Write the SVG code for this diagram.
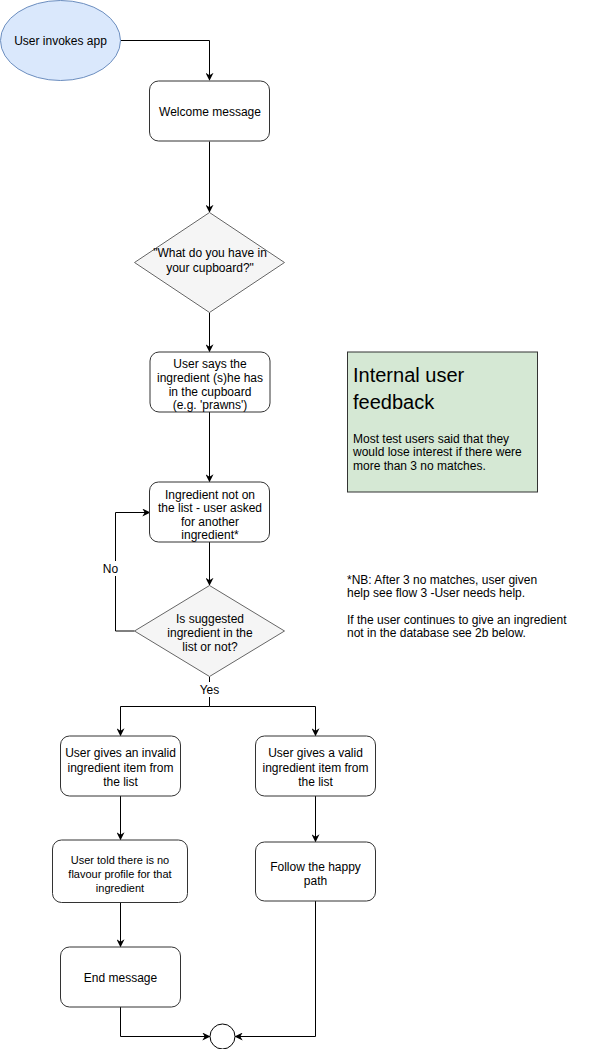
<svg xmlns="http://www.w3.org/2000/svg" width="592" height="1049" viewBox="0 0 592 1049">
<style>
text{font-family:"Liberation Sans",Arial,sans-serif;font-size:12px;fill:#000;}
.c{text-anchor:middle;dominant-baseline:central;}
.box{fill:#fff;stroke:#333;stroke-width:1;}
.dia{fill:#f5f5f5;stroke:#666;stroke-width:1;}
.edge{fill:none;stroke:#000;stroke-width:1;}
.s{font-size:11px;}
</style>
<defs>
<marker id="arr" viewBox="0 0 10 10" refX="9" refY="5" markerWidth="8" markerHeight="8" markerUnits="userSpaceOnUse" orient="auto">
<path d="M0,0 L10,5 L0,10 L3,5 Z" fill="#000"/>
</marker>
</defs>
<rect width="592" height="1049" fill="#fff"/>
<g id="connectors">
<path class="edge" d="M120.5,40.5 H209.5 V80" marker-end="url(#arr)"/>
<path class="edge" d="M209.5,141.5 V212" marker-end="url(#arr)"/>
<path class="edge" d="M209.5,312.5 V351.5" marker-end="url(#arr)"/>
<path class="edge" d="M209.5,412 V481.5" marker-end="url(#arr)"/>
<path class="edge" d="M209.5,542 V585" marker-end="url(#arr)"/>
<path class="edge" d="M134.5,631 H115.5 V512.5 H149.5" marker-end="url(#arr)"/>
<path class="edge" d="M209.5,676.5 V706.5 H120.5 V735.5" marker-end="url(#arr)"/>
<path class="edge" d="M209.5,706.5 H315.5 V735.5" marker-end="url(#arr)"/>
<path class="edge" d="M120.5,796 V839.5" marker-end="url(#arr)"/>
<path class="edge" d="M315.5,796 V841.5" marker-end="url(#arr)"/>
<path class="edge" d="M120.5,903 V946.5" marker-end="url(#arr)"/>
<path class="edge" d="M120.5,1007 V1036.5 H209.5" marker-end="url(#arr)"/>
<path class="edge" d="M315.5,901 V1036.5 H235.5" marker-end="url(#arr)"/>
<rect x="101" y="561" width="19" height="15" fill="#fff"/>
<text class="c" x="110.5" y="568.5">No</text>
<rect x="198" y="682" width="23" height="15" fill="#fff"/>
<text class="c" x="209.5" y="689.5">Yes</text>
</g>
<g id="start">
<ellipse cx="60.5" cy="40.5" rx="60" ry="40" fill="#dae8fc" stroke="#6c8ebf"/>
<text class="c" x="60.5" y="41">User invokes app</text>
</g>
<g id="welcome">
<rect class="box" x="149.5" y="81" width="120" height="60" rx="9"/>
<text class="c" x="210" y="111.5">Welcome message</text>
</g>
<g id="cupboard">
<path class="dia" d="M209.5,212.5 L284.5,262.5 L209.5,312.5 L134.5,262.5 Z"/>
<text class="c" x="210" y="253">"What do you have in</text>
<text class="c" x="210" y="268">your cupboard?"</text>
</g>
<g id="usersays">
<rect class="box" x="150" y="352" width="120" height="60" rx="9"/>
<text class="c" x="210" y="363.5">User says the</text>
<text class="c" x="210" y="377.5">ingredient (s)he has</text>
<text class="c" x="210" y="391.5">in the cupboard </text>
<text class="c" x="210" y="405">(e.g. 'prawns')</text>
</g>
<g id="notonlist">
<rect class="box" x="149.5" y="482" width="120" height="60" rx="9"/>
<text class="c" x="210" y="494.5">Ingredient not on</text>
<text class="c" x="210" y="508">the list - user asked</text>
<text class="c" x="210" y="521.5">for another</text>
<text class="c" x="210" y="535">ingredient*</text>
</g>
<g id="inlist">
<path class="dia" d="M209.5,585.5 L284.5,631 L209.5,676.5 L134.5,631 Z"/>
<text class="c" x="210" y="618.5">Is suggested</text>
<text class="c" x="210" y="633">ingredient in the</text>
<text class="c" x="210" y="647">list or not?</text>
</g>
<g id="invalid">
<rect class="box" x="60.5" y="736" width="120" height="60" rx="9"/>
<text class="c" x="120.5" y="753">User gives an invalid</text>
<text class="c" x="120.5" y="767.5">ingredient item from</text>
<text class="c" x="120.5" y="781.5">the list</text>
</g>
<g id="valid">
<rect class="box" x="255.5" y="736" width="120" height="60" rx="9"/>
<text class="c" x="315.5" y="753">User gives a valid</text>
<text class="c" x="315.5" y="767.5">ingredient item from</text>
<text class="c" x="315.5" y="781.5">the list</text>
</g>
<g id="noprofile">
<rect class="box" x="52.5" y="840" width="135" height="62.5" rx="9"/>
<text class="c s" x="120" y="860">User told there is no</text>
<text class="c s" x="120" y="874">flavour profile for that</text>
<text class="c s" x="120" y="887.5">ingredient</text>
</g>
<g id="happy">
<rect class="box" x="255.5" y="842" width="120" height="59" rx="9"/>
<text class="c" x="315.5" y="866.5">Follow the happy</text>
<text class="c" x="315.5" y="881">path</text>
</g>
<g id="endmsg">
<rect class="box" x="60.5" y="947" width="120" height="60" rx="9"/>
<text class="c" x="120.5" y="977.5">End message</text>
</g>
<g id="end">
<circle cx="222.5" cy="1036.5" r="12.5" fill="#fff" stroke="#000"/>
</g>
<g id="feedback">
<rect x="347.5" y="352" width="190" height="140" fill="#d5e8d4" stroke="#333"/>
<text x="353" y="381.5" style="font-size:20px">Internal user</text>
<text x="353" y="409" style="font-size:20px">feedback</text>
<text x="353" y="442.5">Most test users said that they</text>
<text x="353" y="456">would lose interest if there were</text>
<text x="353" y="470">more than 3 no matches.</text>
</g>
<g id="note">
<text x="347" y="583.5">*NB: After 3 no matches, user given</text>
<text x="347" y="596.5">help see flow 3 -User needs help.</text>
<text x="347" y="623.5">If the user continues to give an ingredient</text>
<text x="347" y="637">not in the database see 2b below.</text>
</g>
</svg>
